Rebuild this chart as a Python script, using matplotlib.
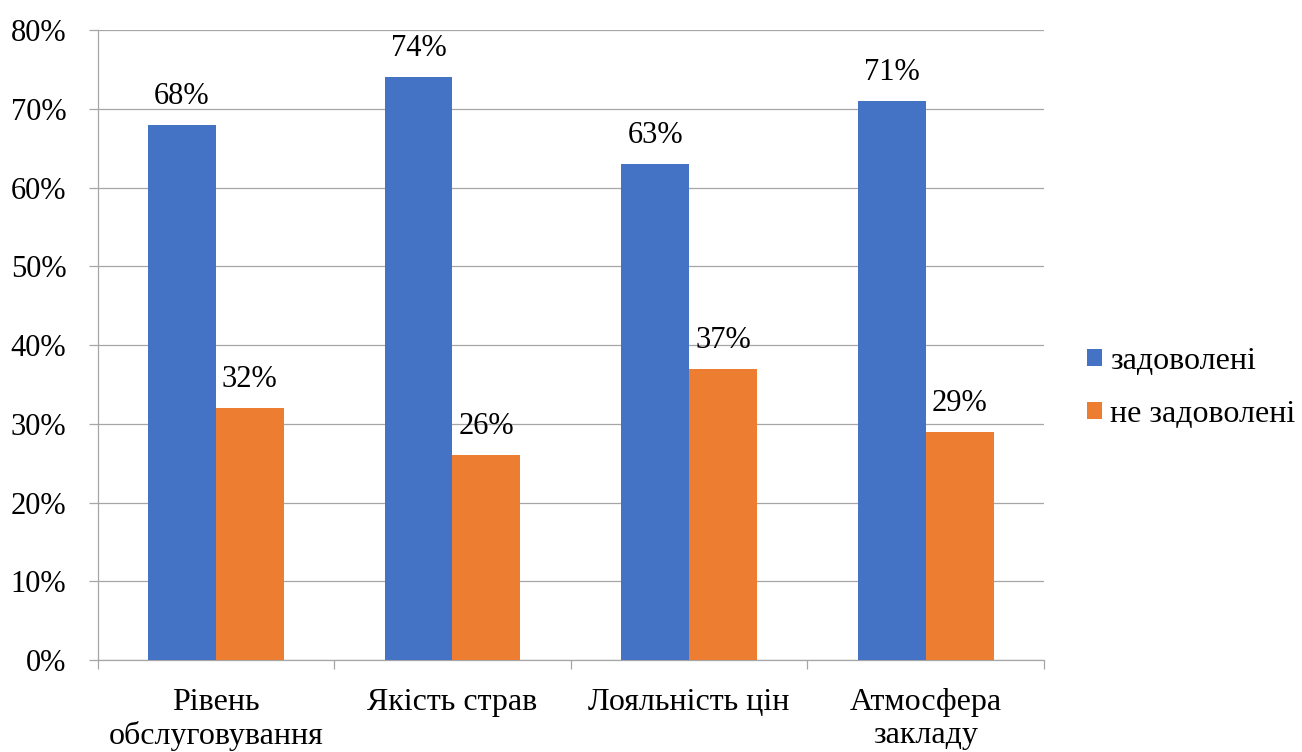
import numpy as np
import matplotlib
matplotlib.use('Agg')
import matplotlib.pyplot as plt

# Survey results by category
categories = ['Рівень\nобслуговування', 'Якість страв', 'Лояльність цін', 'Атмосфера\nзакладу']
satisfied = [68, 74, 63, 71]
unsatisfied = [32, 26, 37, 29]
series_names = ['задоволені', 'не задоволені']
y_ticks = [0, 10, 20, 30, 40, 50, 60, 70, 80]

blue = '#4472C4'
orange = '#ED7D31'
grid_gray = '#A6A6A6'

plt.rcParams['font.family'] = ['Liberation Serif', 'DejaVu Serif']
plt.rcParams['font.size'] = 22

fig = plt.figure(figsize=(13.02, 7.52), dpi=100)
ax = fig.add_axes([0.0749, 0.1223, 0.727, 0.8378])

x = np.arange(len(categories))
width = 0.287

bars1 = ax.bar(x - width / 2, satisfied, width, color=blue, label=series_names[0], zorder=3)
bars2 = ax.bar(x + width / 2, unsatisfied, width, color=orange, label=series_names[1], zorder=3)

# Value labels above bars
for bars, vals in [(bars1, satisfied), (bars2, unsatisfied)]:
    for b, v in zip(bars, vals):
        ax.annotate(f'{v}%', (b.get_x() + b.get_width() / 2, v),
                    xytext=(0, 10), textcoords='offset points',
                    ha='center', va='bottom', fontsize=22)

ax.set_xlim(-0.5, len(categories) - 0.5)
ax.set_ylim(0, 80)
ax.set_yticks(y_ticks)
ax.set_yticklabels([f'{t}%' for t in y_ticks], fontsize=22)
ax.yaxis.grid(True, color=grid_gray, linewidth=0.9, zorder=0)
ax.set_axisbelow(True)

# Category labels in the middle, tick marks at the boundaries
ax.set_xticks(x)
ax.set_xticklabels(categories, linespacing=1.2, fontsize=23)
ax.tick_params(axis='x', length=0, pad=20)
ax.set_xticks(np.arange(len(categories) + 1) - 0.5, minor=True)
ax.tick_params(axis='x', which='minor', length=6.5, color=grid_gray, width=0.9, direction='out')
ax.tick_params(axis='y', length=6.5, color=grid_gray, width=0.9, pad=16)

for side in ['top', 'right']:
    ax.spines[side].set_visible(False)
for side in ['left', 'bottom']:
    ax.spines[side].set_color(grid_gray)
    ax.spines[side].set_linewidth(0.9)

fig.legend(loc='center left', bbox_to_anchor=(0.813, 0.484), frameon=False,
           handlelength=0.45, handleheight=0.45, handletextpad=0.25,
           labelspacing=0.75, fontsize=23)

fig.savefig('out.png', dpi=100)
